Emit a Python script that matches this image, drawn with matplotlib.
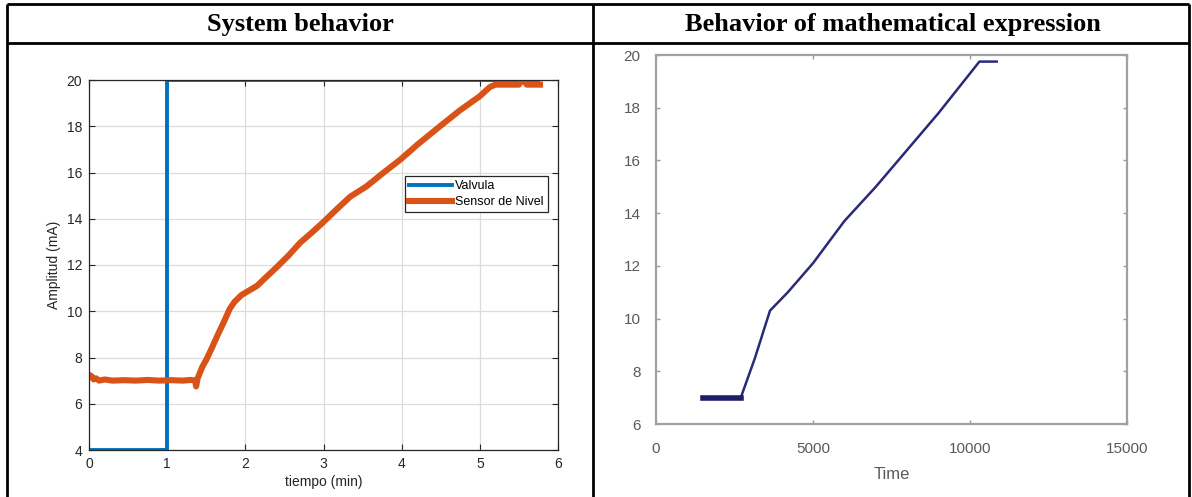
import matplotlib
matplotlib.use("Agg")
import matplotlib.pyplot as plt
from matplotlib.lines import Line2D

W, H = 1192, 497

# encabezados de la tabla
titulo_izq = "System behavior"
titulo_der = "Behavior of mathematical expression"

# grafica izquierda: valvula y sensor de nivel (tiempo en min, amplitud en mA)
t_valvula = [0.0, 1.0, 1.0, 5.74]
valvula = [4.0, 4.0, 20.0, 20.0]

t_sensor = [0.0, 0.03, 0.06, 0.09, 0.13, 0.2, 0.3, 0.45, 0.6, 0.75, 0.9, 1.05, 1.2, 1.3,
            1.36, 1.37, 1.39, 1.45, 1.5, 1.57, 1.65, 1.72, 1.8, 1.86, 1.95, 2.05, 2.15,
            2.23, 2.4, 2.55, 2.7, 2.85, 2.99, 3.15, 3.34, 3.55, 3.77, 3.98, 4.2, 4.49,
            4.75, 5.0, 5.13, 5.2, 5.35, 5.5, 5.55, 5.6, 5.77]
sensor = [7.25, 7.2, 7.05, 7.1, 7.0, 7.05, 7.0, 7.02, 7.0, 7.03, 7.0, 7.02, 7.0, 7.03,
          7.0, 6.75, 7.1, 7.6, 7.9, 8.4, 9.0, 9.5, 10.1, 10.4, 10.7, 10.9, 11.1,
          11.36, 11.9, 12.4, 12.96, 13.4, 13.83, 14.35, 14.95, 15.4, 16.0, 16.55, 17.2, 18.0,
          18.7, 19.3, 19.7, 19.8, 19.8, 19.8, 20.05, 19.8, 19.8]

# grafica derecha: expresion matematica
t_expr = [1500, 2000, 2700, 3150, 3630, 4200, 5000, 6000, 7000, 8000, 9000, 10000, 10300, 10850]
expr = [7.0, 7.0, 7.0, 8.5, 10.3, 11.0, 12.1, 13.7, 15.0, 16.4, 17.8, 19.3, 19.75, 19.75]

fig = plt.figure(figsize=(W / 100, H / 100), dpi=100)


def caja(x0, y0, x1, y1):
    # rectangulo en pixeles (origen arriba a la izquierda)
    return [x0 / W, 1 - y1 / H, (x1 - x0) / W, (y1 - y0) / H]


# --- lineas de la tabla ---
negro = dict(color="black", linewidth=2.0, solid_capstyle="butt")
for y in (4, 43):
    fig.add_artist(Line2D([7 / W, 1189 / W], [1 - y / H, 1 - y / H], **negro))
for x in (7, 593, 1189):
    fig.add_artist(Line2D([x / W, x / W], [1 - 4 / H, 0], **negro))

fig.text(300 / W, 1 - 25 / H, titulo_izq, ha="center", va="center",
         fontsize=19, fontweight="bold", family="Liberation Serif")
fig.text(893 / W, 1 - 25 / H, titulo_der, ha="center", va="center",
         fontsize=19, fontweight="bold", family="Liberation Serif")

# --- grafica izquierda (estilo MATLAB) ---
ax1 = fig.add_axes(caja(89, 80, 558, 450))
ax1.plot(t_valvula, valvula, color="#0072BD", linewidth=2.8, label="Valvula")
ax1.plot(t_sensor, sensor, color="#D95319", linewidth=4.4, label="Sensor de Nivel",
         solid_joinstyle="round")
ax1.set_xlim(0, 6)
ax1.set_ylim(4, 20)
ax1.set_xticks(range(0, 7))
ax1.set_yticks(range(4, 21, 2))
ax1.grid(True, color="#dcdcdc", linewidth=0.9)
ax1.set_axisbelow(True)
ax1.tick_params(direction="in", top=True, right=True, length=4, width=0.8,
                labelsize=10, colors="#262626", pad=5)
for s in ax1.spines.values():
    s.set_color("#262626")
    s.set_linewidth(0.9)
for lab in ax1.get_xticklabels() + ax1.get_yticklabels():
    lab.set_family("Liberation Sans")
ax1.set_xlabel("tiempo (min)", fontsize=10, family="Liberation Sans", color="#262626",
               labelpad=3)
ax1.set_ylabel("Amplitud (mA)", fontsize=10, family="Liberation Sans", color="#262626",
               labelpad=4)
leg = ax1.legend(loc="upper right", bbox_to_anchor=(0.979, 0.741), fancybox=False,
                 framealpha=1, edgecolor="#262626", prop={"family": "Liberation Sans", "size": 9},
                 handlelength=3.4, borderpad=0.35, labelspacing=0.3, handletextpad=0.3,
                 borderaxespad=0)
leg.get_frame().set_linewidth(0.9)

# --- grafica derecha ---
ax2 = fig.add_axes(caja(656, 55, 1127, 424))
ax2.plot(t_expr, expr, color="#2a2a78", linewidth=1.8)
ax2.plot(t_expr[:3], expr[:3], color="#1e1e66", linewidth=4)
ax2.set_xlim(0, 15000)
ax2.set_ylim(6, 20)
ax2.set_xticks([0, 5000, 10000, 15000])
ax2.set_yticks(range(6, 21, 2))
ax2.tick_params(direction="in", top=True, right=True, length=3, width=1,
                labelsize=11, colors="#9a9a9a", labelcolor="#5a5a5a")
ax2.tick_params(axis="x", pad=13)
ax2.tick_params(axis="y", pad=11)
for s in ax2.spines.values():
    s.set_color("#a0a0a0")
    s.set_linewidth(1.6)
for lab in ax2.get_xticklabels() + ax2.get_yticklabels():
    lab.set_family("Liberation Sans")
ax2.set_xlabel("Time", fontsize=12, family="Liberation Sans", color="#5a5a5a", labelpad=8)

fig.savefig("out.png", dpi=100)
